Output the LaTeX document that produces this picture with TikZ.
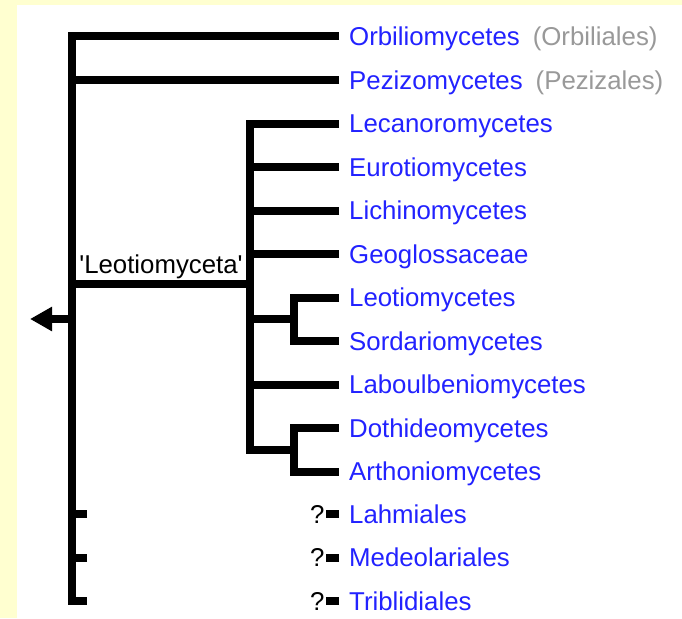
\documentclass[tikz,border=0pt]{standalone}
\usepackage{fontspec}
\setmainfont{Liberation Sans}
\usetikzlibrary{arrows.meta}
\definecolor{taxblue}{RGB}{34,34,255}
\definecolor{ordgrey}{RGB}{153,153,153}
\definecolor{pageyellow}{RGB}{255,255,208}
\tikzset{branch/.style={line width=8pt,black},
         taxon/.style={anchor=base west,inner sep=0pt,text=taxblue,font=\fontsize{25.8}{30}\selectfont},
         cladename/.style={anchor=base,inner sep=0pt,font=\fontsize{25.8}{30}\selectfont}}

\begin{document}
\begin{tikzpicture}[x=1pt,y=-1pt]
                  \useasboundingbox (0,0) rectangle (682,618);
                  \fill[pageyellow] (0,0) rectangle (682,618);
                  \fill[white] (17,5) rectangle (682,618);
                  % tips
                  \coordinate (orb) at (339,36.5);
                  \coordinate (pez) at (339,80);
                  \coordinate (lec) at (339,123.5);
                  \coordinate (eur) at (339,167);
                  \coordinate (lic) at (339,210.5);
                  \coordinate (geo) at (339,254);
                  \coordinate (leo) at (339,297.5);
                  \coordinate (sor) at (339,341);
                  \coordinate (lab) at (339,384.5);
                  \coordinate (dot) at (339,428);
                  \coordinate (art) at (339,471.5);
                  \coordinate (lah) at (339,514);
                  \coordinate (med) at (339,557.5);
                  \coordinate (tri) at (339,601);
                  % inner nodes
                  \coordinate (root) at (72,319);
                  \coordinate (base) at (30,319);
                  \coordinate (leoc) at (250,284);
                  \coordinate (ls) at (294,319);
                  \coordinate (da) at (294,450);
                  \coordinate (lahs) at (87,514);
                  \coordinate (meds) at (87,557.5);
                  \coordinate (tris) at (87,601);
                  % labels
                  \node[taxon] (orbl) at (349,45.5) {Orbiliomycetes\hspace{13pt}\textcolor{ordgrey}{(Orbiliales)}};
                  \node[taxon] (pezl) at (349,89) {Pezizomycetes\hspace{13pt}\textcolor{ordgrey}{(Pezizales)}};
                  \node[taxon] (lecl) at (349,132.5) {Lecanoromycetes};
                  \node[taxon] (eurl) at (349,176) {Eurotiomycetes};
                  \node[taxon] (licl) at (349,219.5) {Lichinomycetes};
                  \node[taxon] (geol) at (349,263) {Geoglossaceae};
                  \node[taxon] (leol) at (349,306.5) {Leotiomycetes};
                  \node[taxon] (sorl) at (349,350) {Sordariomycetes};
                  \node[taxon] (labl) at (349,393.5) {Laboulbeniomycetes};
                  \node[taxon] (dotl) at (349,437) {Dothideomycetes};
                  \node[taxon] (artl) at (349,480.5) {Arthoniomycetes};
                  \node[taxon] (lahl) at (349,523) {Lahmiales};
                  \node[taxon] (medl) at (349,566.5) {Medeolariales};
                  \node[taxon] (tril) at (349,610) {Triblidiales};
                  \node[cladename] (leoname) at (161,273) {\textquotesingle Leotiomyceta\textquotesingle};
                  \node[cladename,anchor=base west] (lahq) at (310,523) {?};
                  \node[cladename,anchor=base west] (medq) at (310,566.5) {?};
                  \node[cladename,anchor=base west] (triq) at (310,610) {?};
                  % main spine
                  \draw[branch] (orb) -| (root) |- (tris);
                  \draw[branch] (pez) -- (pez -| root);
                  \draw[branch] (leoc) -- (leoc -| root);
                  \draw[branch] (lahs) -- (lahs -| root);
                  \draw[branch] (meds) -- (meds -| root);
                  \draw[branch,-{Triangle[length=22pt,width=23pt]}] (root) -- (base);
                  % Leotiomyceta
                  \draw[branch] (lec) -| (leoc) |- (da);
                  \draw[branch] (eur) -- (eur -| leoc);
                  \draw[branch] (lic) -- (lic -| leoc);
                  \draw[branch] (geo) -- (geo -| leoc);
                  \draw[branch] (ls) -- (ls -| leoc);
                  \draw[branch] (lab) -- (lab -| leoc);
                  \draw[branch] (leo) -| (ls) |- (sor);
                  \draw[branch] (dot) -| (da) |- (art);
                  % uncertain orders
                  \draw[branch] (lah) -- ++(-13,0);
                  \draw[branch] (med) -- ++(-13,0);
                  \draw[branch] (tri) -- ++(-13,0);
              \end{tikzpicture}
\end{document}
